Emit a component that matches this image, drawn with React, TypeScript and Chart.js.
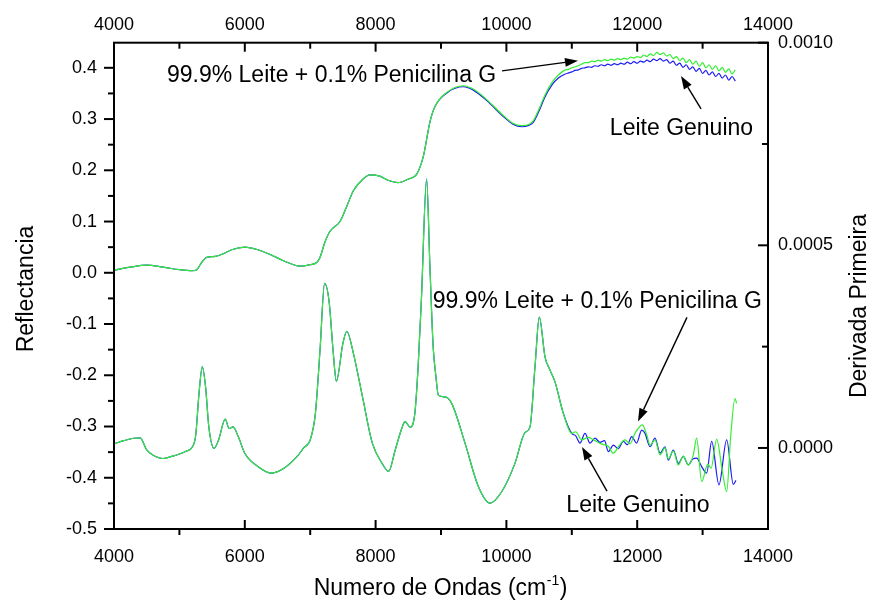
import React, { useEffect, useRef } from 'react';
import { Chart, registerables } from 'chart.js';

Chart.register(...registerables);

// ---- Reflectance (left axis) ----
const reflWave = [
  4000, 4250, 4500, 4750, 5000, 5200, 5264, 5350, 5417, 5550, 5650, 5800, 6000, 6200, 6400, 6600, 6844,
  7000, 7100, 7150, 7223, 7303, 7456, 7560, 7660, 7800, 7914, 8050, 8200, 8343, 8500, 8627, 8730, 8832,
  8910, 9100, 9341, 9500, 9700, 9928, 10100, 10234, 10350, 10413, 10500, 10590, 10700, 10795, 10900,
  10950, 11000, 11050, 11100, 11150, 11200, 11250, 11300, 11350, 11400, 11450, 11500, 11550, 11600,
  11650, 11700, 11750, 11800, 11850, 11900, 11950, 12000, 12050, 12100, 12150, 12200, 12250, 12300,
  12350, 12400, 12450, 12500, 12550, 12600, 12650, 12700, 12750, 12800, 12850, 12900, 12950, 13000,
  13050, 13100, 13150, 13200, 13250, 13300, 13350, 13400, 13450, 13500,
];
const reflPenicilina = [
  0.005, 0.011, 0.015, 0.011, 0.006, 0.004, 0.006, 0.022, 0.030, 0.032, 0.036, 0.045, 0.050, 0.045, 0.035, 0.023, 0.013,
  0.016, 0.020, 0.030, 0.059, 0.081, 0.100, 0.130, 0.160, 0.182, 0.191, 0.189, 0.180, 0.176, 0.183, 0.192, 0.227, 0.295,
  0.325, 0.353, 0.365, 0.358, 0.338, 0.310, 0.292, 0.287, 0.290, 0.297, 0.320, 0.347, 0.372, 0.386, 0.396,
  0.397, 0.400, 0.402, 0.404, 0.407, 0.410, 0.410, 0.413, 0.412, 0.415, 0.413, 0.416, 0.414, 0.417,
  0.415, 0.418, 0.416, 0.419, 0.417, 0.421, 0.419, 0.422, 0.420, 0.425, 0.422, 0.427, 0.424, 0.430,
  0.426, 0.429, 0.423, 0.426, 0.418, 0.422, 0.414, 0.419, 0.410, 0.416, 0.407, 0.413, 0.403, 0.410,
  0.400, 0.406, 0.397, 0.404, 0.394, 0.401, 0.391, 0.398, 0.388, 0.396,
];
const reflGenuino = [
  0.005, 0.011, 0.015, 0.011, 0.006, 0.004, 0.006, 0.022, 0.030, 0.032, 0.036, 0.045, 0.050, 0.045, 0.035, 0.023, 0.013,
  0.016, 0.020, 0.030, 0.059, 0.081, 0.100, 0.130, 0.160, 0.182, 0.191, 0.189, 0.180, 0.176, 0.183, 0.192, 0.227, 0.295,
  0.325, 0.352, 0.363, 0.356, 0.336, 0.308, 0.290, 0.285, 0.288, 0.294, 0.316, 0.343, 0.367, 0.380, 0.388,
  0.390, 0.392, 0.395, 0.396, 0.399, 0.400, 0.402, 0.401, 0.404, 0.403, 0.406, 0.404, 0.407, 0.405,
  0.408, 0.406, 0.409, 0.407, 0.411, 0.408, 0.412, 0.409, 0.413, 0.411, 0.415, 0.412, 0.417, 0.414,
  0.418, 0.413, 0.416, 0.409, 0.413, 0.405, 0.409, 0.401, 0.406, 0.397, 0.402, 0.393, 0.399, 0.389,
  0.395, 0.386, 0.392, 0.383, 0.389, 0.380, 0.386, 0.376, 0.383, 0.374,
];

// ---- First derivative (right axis) ----
const derivWave = [
  4000, 4150, 4300, 4400, 4500, 4600, 4750, 4900, 5000, 5100, 5200, 5250, 5300, 5350, 5400, 5450, 5530,
  5600, 5700, 5760, 5820, 5900, 6000, 6200, 6400, 6600, 6800, 6900, 7000, 7080, 7150, 7220, 7290, 7350,
  7400, 7500, 7560, 7650, 7800, 7950, 8100, 8200, 8300, 8400, 8450, 8530, 8600, 8650, 8700, 8780, 8830,
  8880, 8920, 8960, 9061, 9163, 9367, 9571, 9749, 9928, 10131, 10284, 10361, 10437, 10503, 10590, 10667,
  10743, 10871, 10998,
];
const derivShared = [
  0.10e-4, 0.18e-4, 0.24e-4, 0.25e-4, -0.05e-4, -0.18e-4, -0.26e-4, -0.20e-4, -0.15e-4, -0.08e-4, 0.03e-4,
  0.32e-4, 1.35e-4, 2.00e-4, 1.51e-4, 0.52e-4, -0.01e-4, 0.20e-4, 0.71e-4, 0.48e-4, 0.52e-4, 0.28e-4,
  -0.13e-4, -0.46e-4, -0.62e-4, -0.50e-4, -0.21e-4, 0.00e-4, 0.20e-4, 0.86e-4, 2.41e-4, 4.06e-4, 3.60e-4,
  2.40e-4, 1.65e-4, 2.58e-4, 2.88e-4, 2.41e-4, 1.26e-4, 0.12e-4, -0.38e-4, -0.58e-4, -0.05e-4, 0.48e-4,
  0.65e-4, 0.51e-4, 0.85e-4, 2.00e-4, 3.65e-4, 6.64e-4, 4.50e-4, 2.50e-4, 1.80e-4, 1.30e-4, 1.26e-4,
  1.10e-4, 0.12e-4, -0.95e-4, -1.36e-4, -1.08e-4, -0.38e-4, 0.38e-4, 0.52e-4, 2.00e-4, 3.23e-4, 2.25e-4,
  1.92e-4, 1.63e-4, 0.85e-4, 0.36e-4,
];
const derivGenuinoTailWave = [
  11060, 11125, 11202, 11278, 11355, 11430, 11500, 11558, 11635, 11710, 11788, 11850, 11916, 11990, 12069,
  12120, 12196, 12272, 12349, 12425, 12476, 12553, 12629, 12705, 12782, 12850, 12909, 12986, 13062, 13139,
  13250, 13368, 13470, 13510,
];
const derivGenuinoTail = [
  0.30e-4, 0.12e-4, 0.36e-4, 0.12e-4, 0.24e-4, 0.14e-4, 0.18e-4, -0.09e-4, 0.07e-4, -0.02e-4, 0.16e-4,
  0.08e-4, 0.28e-4, 0.12e-4, 0.44e-4, 0.36e-4, 0.03e-4, 0.24e-4, -0.13e-4, 0.03e-4, -0.30e-4, -0.05e-4,
  -0.38e-4, -0.21e-4, -0.42e-4, -0.27e-4, -0.25e-4, -0.46e-4, -0.62e-4, 0.16e-4, -0.91e-4, 0.20e-4,
  -0.90e-4, -0.80e-4,
];
const derivPenicilinaTailWave = [
  11060, 11150, 11250, 11355, 11450, 11558, 11635, 11720, 11813, 11890, 11966, 12078, 12150, 12196, 12272,
  12349, 12425, 12476, 12553, 12629, 12705, 12782, 12858, 12909, 12986, 13080, 13130, 13215, 13300, 13368,
  13430, 13495, 13520,
];
const derivPenicilinaTail = [
  0.40e-4, 0.20e-4, 0.26e-4, 0.18e-4, 0.10e-4, 0.04e-4, -0.13e-4, 0.05e-4, 0.20e-4, 0.10e-4, 0.36e-4,
  0.57e-4, 0.30e-4, 0.07e-4, 0.20e-4, -0.17e-4, 0.00e-4, -0.27e-4, -0.08e-4, -0.42e-4, -0.20e-4, -0.42e-4,
  -0.17e-4, 0.24e-4, -0.83e-4, -0.40e-4, -0.50e-4, 0.22e-4, -0.55e-4, -1.08e-4, 0.30e-4, 1.22e-4, 1.10e-4,
];

// ---- Axes ----
const xTicks = [4000, 6000, 8000, 10000, 12000, 14000];
const xMinorTicks = [5000, 7000, 9000, 11000, 13000];
const leftTicks = [-0.5, -0.4, -0.3, -0.2, -0.1, 0.0, 0.1, 0.2, 0.3, 0.4];
const leftMinorTicks = [-0.45, -0.35, -0.25, -0.15, -0.05, 0.05, 0.15, 0.25, 0.35];
const rightTicks = [0, 0.0005, 0.001];
const rightMinorTicks = [0.00025, 0.00075];

const BLUE = '#1c1cf2';
const GREEN = '#33ee33';
const FAMILY = '"Liberation Sans", Arial, Helvetica, sans-serif';

const toPts = (xs: number[], ys: number[]) => xs.map((x, i) => ({ x, y: ys[i] }));

const overlay = {
  id: 'overlay',
  beforeDraw(chart: any) {
    const ctx = chart.ctx;
    ctx.save();
    ctx.fillStyle = '#fff';
    ctx.fillRect(0, 0, chart.width, chart.height);
    ctx.restore();
  },
  afterDraw(chart: any) {
    const { ctx, chartArea: a, scales } = chart;
    const sx = scales.x, sy = scales.y, sy2 = scales.y2;
    const X = (v: number) => sx.getPixelForValue(v);
    const Y = (v: number) => sy.getPixelForValue(v);
    const Y2 = (v: number) => sy2.getPixelForValue(v);
    ctx.save();
    ctx.strokeStyle = '#000';
    ctx.lineWidth = 2;
    ctx.lineCap = 'butt';
    ctx.strokeRect(a.left, a.top, a.right - a.left, a.bottom - a.top);
    const seg = (x1: number, y1: number, x2: number, y2: number) => {
      ctx.beginPath();
      ctx.moveTo(x1, y1);
      ctx.lineTo(x2, y2);
      ctx.stroke();
    };
    xTicks.forEach((v) => {
      const p = X(v);
      seg(p, a.top, p, a.top + 9);
      seg(p, a.bottom, p, a.bottom - 9);
    });
    xMinorTicks.forEach((v) => {
      const p = X(v);
      seg(p, a.top, p, a.top + 6);
      seg(p, a.bottom, p, a.bottom + 6);
    });
    leftTicks.forEach((v) => {
      const p = Y(v);
      seg(a.left - 10, p, a.left, p);
    });
    leftMinorTicks.forEach((v) => {
      const p = Y(v);
      seg(a.left - 6, p, a.left, p);
    });
    rightTicks.forEach((v) => {
      const p = Y2(v);
      seg(a.right, p, a.right - 10, p);
    });
    rightMinorTicks.forEach((v) => {
      const p = Y2(v);
      seg(a.right, p, a.right - 6, p);
    });

    // axis titles
    ctx.fillStyle = '#000';
    ctx.font = `23px ${FAMILY}`;
    ctx.textBaseline = 'alphabetic';
    ctx.textAlign = 'center';
    ctx.save();
    ctx.translate(33, 289);
    ctx.rotate(-Math.PI / 2);
    ctx.fillText('Reflectancia', 0, 0);
    ctx.restore();
    ctx.save();
    ctx.translate(866, 306);
    ctx.rotate(-Math.PI / 2);
    ctx.fillText('Derivada Primeira', 0, 0);
    ctx.restore();

    ctx.textAlign = 'left';
    const t1 = 'Numero de Ondas (cm';
    const sup = '-1';
    const t3 = ')';
    ctx.font = `23px ${FAMILY}`;
    const w1 = ctx.measureText(t1).width;
    const w3 = ctx.measureText(t3).width;
    ctx.font = `14px ${FAMILY}`;
    const w2 = ctx.measureText(sup).width;
    const sx0 = 440 - (w1 + w2 + w3) / 2;
    ctx.font = `23px ${FAMILY}`;
    ctx.fillText(t1, sx0, 595);
    ctx.fillText(t3, sx0 + w1 + w2 + 1, 595);
    ctx.font = `14px ${FAMILY}`;
    ctx.fillText(sup, sx0 + w1 + 0.5, 585);

    // annotations
    ctx.font = `23px ${FAMILY}`;
    ctx.textAlign = 'left';
    ctx.fillText('99.9% Leite + 0.1% Penicilina G', X(4810), Y(0.373));
    ctx.fillText('99.9% Leite + 0.1% Penicilina G', X(8873), Y(-0.068));
    ctx.textAlign = 'center';
    ctx.fillText('Leite Genuino', X(12677), Y(0.2694));
    ctx.fillText('Leite Genuino', X(12012), Y(-0.467));

    const arrow = (x1: number, y1: number, x2: number, y2: number) => {
      const ang = Math.atan2(y2 - y1, x2 - x1);
      const L = 13, W = 4.5;
      const bx = x2 - L * Math.cos(ang), by = y2 - L * Math.sin(ang);
      ctx.lineWidth = 1.4;
      ctx.beginPath();
      ctx.moveTo(x1, y1);
      ctx.lineTo(bx, by);
      ctx.stroke();
      ctx.beginPath();
      ctx.moveTo(x2, y2);
      ctx.lineTo(bx + W * Math.sin(ang), by - W * Math.cos(ang));
      ctx.lineTo(bx - W * Math.sin(ang), by + W * Math.cos(ang));
      ctx.closePath();
      ctx.fill();
    };
    arrow(X(9933), Y(0.394), X(11095), Y(0.414));
    arrow(X(12976), Y(0.320), X(12670), Y(0.384));
    arrow(X(12761), Y(-0.087), X(12012), Y(-0.290));
    arrow(X(11538), Y(-0.426), X(11156), Y(-0.340));
    ctx.restore();
  },
};

export default function App() {
  const ref = useRef<HTMLCanvasElement | null>(null);
  useEffect(() => {
    if (!ref.current) return;
    const tickFont = { family: FAMILY, size: 18 };
    const common = {
      grid: { display: false, drawTicks: false },
      border: { display: false },
    };
    const line = (label: string, data: any[], color: string, axis: string, order: number) => ({
      label,
      data,
      borderColor: color,
      backgroundColor: color,
      borderWidth: 1.2,
      pointRadius: 0,
      fill: false,
      cubicInterpolationMode: 'monotone' as const,
      yAxisID: axis,
      xAxisID: 'x',
      order,
    });
    const chart = new Chart(ref.current, {
      type: 'line',
      data: {
        datasets: [
          line('99.9% Leite + 0.1% Penicilina G', toPts(reflWave, reflPenicilina), GREEN, 'y', 0),
          line('Leite Genuino', toPts(reflWave, reflGenuino), BLUE, 'y', 1),
          line(
            '99.9% Leite + 0.1% Penicilina G (derivada)',
            toPts(derivWave.concat(derivPenicilinaTailWave), derivShared.concat(derivPenicilinaTail)),
            GREEN,
            'y2',
            0
          ),
          line(
            'Leite Genuino (derivada)',
            toPts(derivWave.concat(derivGenuinoTailWave), derivShared.concat(derivGenuinoTail)),
            BLUE,
            'y2',
            1
          ),
        ],
      },
      options: {
        animation: false,
        responsive: false,
        maintainAspectRatio: false,
        devicePixelRatio: 1,
        layout: { padding: 0 },
        plugins: { legend: { display: false }, tooltip: { enabled: false }, title: { display: false } },
        events: [],
        scales: {
          x: {
            type: 'linear',
            position: 'bottom',
            min: 4000,
            max: 14000,
            ...common,
            afterBuildTicks: (s: any) => {
              s.ticks = xTicks.map((v) => ({ value: v }));
            },
            afterFit: (s: any) => {
              s.height = 78;
            },
            ticks: { font: tickFont, color: '#000', padding: 17, maxRotation: 0, autoSkip: false, callback: (v: any) => String(v) },
          },
          x2: {
            type: 'linear',
            position: 'top',
            min: 4000,
            max: 14000,
            ...common,
            afterBuildTicks: (s: any) => {
              s.ticks = xTicks.map((v) => ({ value: v }));
            },
            afterFit: (s: any) => {
              s.height = 42.7;
            },
            ticks: { font: tickFont, color: '#000', padding: 7, maxRotation: 0, autoSkip: false, callback: (v: any) => String(v) },
          },
          y: {
            type: 'linear',
            position: 'left',
            min: -0.5,
            max: 0.449,
            ...common,
            afterBuildTicks: (s: any) => {
              s.ticks = leftTicks.map((v) => ({ value: v }));
            },
            afterFit: (s: any) => {
              s.width = 114;
            },
            ticks: { font: tickFont, color: '#000', padding: 17, callback: (v: any) => Number(v).toFixed(1) },
          },
          y2: {
            type: 'linear',
            position: 'right',
            min: -0.0002,
            max: 0.001,
            ...common,
            afterBuildTicks: (s: any) => {
              s.ticks = rightTicks.map((v) => ({ value: v }));
            },
            afterFit: (s: any) => {
              s.width = 101;
            },
            ticks: { font: tickFont, color: '#000', padding: 10, callback: (v: any) => Number(v).toFixed(4) },
          },
        },
      },
      plugins: [overlay],
    } as any);
    return () => chart.destroy();
  }, []);
  return (
    <div style={{ position: 'absolute', left: 0, top: 0, width: 869, height: 607, background: '#fff' }}>
      <canvas ref={ref} width={869} height={607} style={{ display: 'block' }} />
    </div>
  );
}
